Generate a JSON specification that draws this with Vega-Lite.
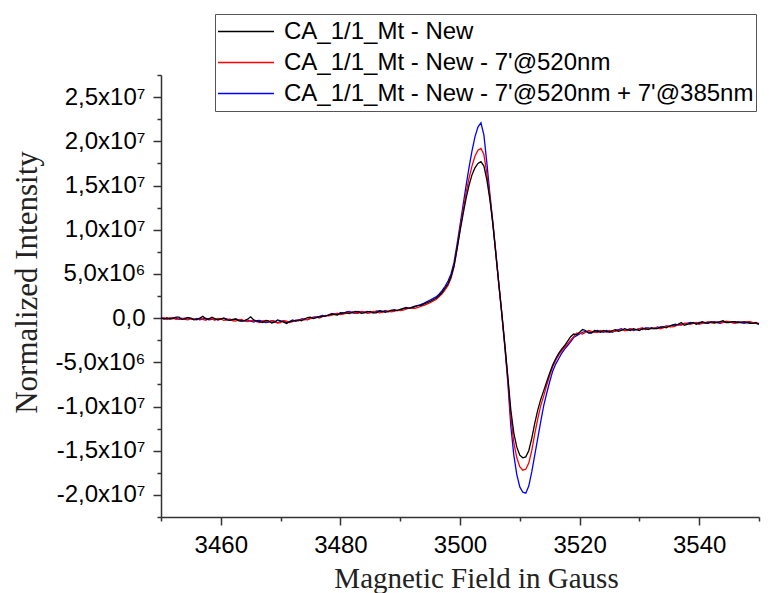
{
"$schema":"https://vega.github.io/schema/vega-lite/v6.json",
"width":598,"height":442,
"autosize":{"type":"none"},
"padding":{"left":161,"top":75,"right":22,"bottom":76},
"background":"white",
"config":{"view":{"stroke":null},"font":"Liberation Sans"},
"data":{"values":[
{"G":3450,"k":0,"r":-1e5,"b":0.5e5},
{"G":3450.5,"k":-1e5,"r":0.5e5,"b":-0.5e5},
{"G":3451,"k":0.5e5,"r":-1.5e5,"b":-1e5},
{"G":3451.5,"k":-1e5,"r":0.5e5,"b":-0.5e5},
{"G":3452,"k":-0.5e5,"r":0,"b":0.5e5},
{"G":3452.5,"k":1e5,"r":-1.5e5,"b":0},
{"G":3453,"k":1e5,"r":-1e5,"b":-1.5e5},
{"G":3453.5,"k":-1.5e5,"r":0,"b":-1e5},
{"G":3454,"k":-1e5,"r":-1.5e5,"b":0},
{"G":3454.5,"k":0.5e5,"r":-2e5,"b":0.5e5},
{"G":3455,"k":0,"r":-0.5e5,"b":-1e5},
{"G":3455.5,"k":-2e5,"r":-1e5,"b":-1.5e5},
{"G":3456,"k":-1.5e5,"r":-2e5,"b":-0.5e5},
{"G":3456.5,"k":0,"r":-0.5e5,"b":-2e5},
{"G":3457,"k":2e5,"r":-1.5e5,"b":-1e5},
{"G":3457.5,"k":-1e5,"r":-2.5e5,"b":0},
{"G":3458,"k":-1e5,"r":-0.5e5,"b":-2e5},
{"G":3458.5,"k":1e5,"r":-1e5,"b":-1.5e5},
{"G":3459,"k":-0.5e5,"r":-2.5e5,"b":-1e5},
{"G":3459.5,"k":-2e5,"r":-0.5e5,"b":-2e5},
{"G":3460,"k":-1e5,"r":-1e5,"b":-1.5e5},
{"G":3460.5,"k":0,"r":-2.5e5,"b":0},
{"G":3461,"k":-2e5,"r":-2e5,"b":-1e5},
{"G":3461.5,"k":-2.5e5,"r":-1e5,"b":-2.5e5},
{"G":3462,"k":-1.5e5,"r":-3e5,"b":-2.5e5},
{"G":3462.5,"k":-1e5,"r":-3.5e5,"b":-1e5},
{"G":3463,"k":-3e5,"r":-2e5,"b":-2e5},
{"G":3463.5,"k":-3.5e5,"r":-1.5e5,"b":-3.5e5},
{"G":3464,"k":-2.5e5,"r":-3.5e5,"b":-3e5},
{"G":3464.5,"k":-1e5,"r":-4e5,"b":-2e5},
{"G":3465,"k":1.5e5,"r":-3e5,"b":-3.5e5},
{"G":3465.5,"k":-2e5,"r":-2.5e5,"b":-4.5e5},
{"G":3466,"k":-3.5e5,"r":-4e5,"b":-3e5},
{"G":3466.5,"k":-4e5,"r":-5e5,"b":-2.5e5},
{"G":3467,"k":-5e5,"r":-3e5,"b":-4e5},
{"G":3467.5,"k":-2.5e5,"r":-3.5e5,"b":-5e5},
{"G":3468,"k":-3e5,"r":-4.5e5,"b":-4.5e5},
{"G":3468.5,"k":-5.5e5,"r":-3e5,"b":-3e5},
{"G":3469,"k":-4.5e5,"r":-4e5,"b":-3.5e5},
{"G":3469.5,"k":-2e5,"r":-5.5e5,"b":-5e5},
{"G":3470,"k":-3e5,"r":-5e5,"b":-4e5},
{"G":3470.5,"k":-4.5e5,"r":-3e5,"b":-3e5},
{"G":3471,"k":-6e5,"r":-3.5e5,"b":-5e5},
{"G":3471.5,"k":-4e5,"r":-5e5,"b":-4e5},
{"G":3472,"k":-3.5e5,"r":-4e5,"b":-2e5},
{"G":3472.5,"k":-2.5e5,"r":-2.5e5,"b":-3.5e5},
{"G":3473,"k":-2e5,"r":-3e5,"b":-2.5e5},
{"G":3473.5,"k":-3e5,"r":-1.5e5,"b":-1e5},
{"G":3474,"k":-1e5,"r":-2e5,"b":-1e5},
{"G":3474.5,"k":0.5e5,"r":-1.5e5,"b":-2e5},
{"G":3475,"k":1e5,"r":-0.5e5,"b":0},
{"G":3475.5,"k":-0.5e5,"r":0.5e5,"b":1e5},
{"G":3476,"k":0.5e5,"r":1e5,"b":1.5e5},
{"G":3476.5,"k":1.5e5,"r":0,"b":2e5},
{"G":3477,"k":2e5,"r":1.5e5,"b":3e5},
{"G":3477.5,"k":2.5e5,"r":3e5,"b":2e5},
{"G":3478,"k":3.5e5,"r":2.5e5,"b":3.5e5},
{"G":3478.5,"k":4.5e5,"r":3e5,"b":5e5},
{"G":3479,"k":4e5,"r":4.5e5,"b":5e5},
{"G":3479.5,"k":3.5e5,"r":5.5e5,"b":4e5},
{"G":3480,"k":5.5e5,"r":4e5,"b":6e5},
{"G":3480.5,"k":6e5,"r":4.5e5,"b":5.5e5},
{"G":3481,"k":6e5,"r":5.5e5,"b":7e5},
{"G":3481.5,"k":5e5,"r":6.5e5,"b":7.5e5},
{"G":3482,"k":6.5e5,"r":7e5,"b":6e5},
{"G":3482.5,"k":7.5e5,"r":5.5e5,"b":5.5e5},
{"G":3483,"k":7e5,"r":5.5e5,"b":7.5e5},
{"G":3483.5,"k":5.5e5,"r":7.5e5,"b":7e5},
{"G":3484,"k":6e5,"r":7e5,"b":6.5e5},
{"G":3484.5,"k":7e5,"r":5.5e5,"b":7.5e5},
{"G":3485,"k":7.5e5,"r":6e5,"b":6.5e5},
{"G":3485.5,"k":6e5,"r":7.5e5,"b":6e5},
{"G":3486,"k":6e5,"r":7e5,"b":8e5},
{"G":3486.5,"k":8.5e5,"r":6e5,"b":7.5e5},
{"G":3487,"k":8e5,"r":6.5e5,"b":7e5},
{"G":3487.5,"k":6.5e5,"r":7.5e5,"b":8.5e5},
{"G":3488,"k":7.5e5,"r":8e5,"b":7e5},
{"G":3488.5,"k":9e5,"r":7e5,"b":8e5},
{"G":3489,"k":9e5,"r":7.5e5,"b":9.5e5},
{"G":3489.5,"k":8.5e5,"r":9e5,"b":8.5e5},
{"G":3490,"k":10e5,"r":8.5e5,"b":9e5},
{"G":3490.5,"k":11e5,"r":9e5,"b":10.5e5},
{"G":3491,"k":11.5e5,"r":10e5,"b":12e5},
{"G":3491.5,"k":11e5,"r":11.5e5,"b":11e5},
{"G":3492,"k":12.5e5,"r":11e5,"b":11.5e5},
{"G":3492.5,"k":13.5e5,"r":11e5,"b":13e5},
{"G":3493,"k":14e5,"r":12e5,"b":14.5e5},
{"G":3493.5,"k":14.5e5,"r":13.5e5,"b":15.5e5},
{"G":3494,"k":16e5,"r":14.5e5,"b":17e5},
{"G":3495,"k":19e5,"r":17.5e5,"b":20.5e5},
{"G":3496,"k":22.5e5,"r":21e5,"b":24e5},
{"G":3496.5,"k":25.5e5,"r":24e5,"b":27e5},
{"G":3497,"k":29e5,"r":27.5e5,"b":31e5},
{"G":3497.5,"k":34e5,"r":32e5,"b":36e5},
{"G":3498,"k":39e5,"r":37e5,"b":42e5},
{"G":3498.5,"k":47e5,"r":45e5,"b":50e5},
{"G":3499,"k":59e5,"r":58e5,"b":63e5},
{"G":3499.5,"k":78e5,"r":78e5,"b":83e5},
{"G":3500,"k":98e5,"r":100e5,"b":105e5},
{"G":3500.5,"k":117e5,"r":121e5,"b":127e5},
{"G":3501,"k":135e5,"r":141e5,"b":149e5},
{"G":3501.5,"k":150e5,"r":158e5,"b":170e5},
{"G":3502,"k":162e5,"r":172e5,"b":189e5},
{"G":3502.5,"k":170e5,"r":183e5,"b":205e5},
{"G":3503,"k":175e5,"r":190e5,"b":216e5},
{"G":3503.5,"k":177e5,"r":192e5,"b":221e5},
{"G":3504,"k":172e5,"r":185e5,"b":207e5},
{"G":3504.5,"k":156e5,"r":163e5,"b":175e5},
{"G":3505,"k":134e5,"r":137e5,"b":140e5},
{"G":3505.5,"k":106e5,"r":107e5,"b":108e5},
{"G":3506,"k":72e5,"r":72e5,"b":74e5},
{"G":3506.5,"k":38e5,"r":38e5,"b":38e5},
{"G":3507,"k":5e5,"r":4e5,"b":4e5},
{"G":3507.5,"k":-30e5,"r":-31e5,"b":-33e5},
{"G":3508,"k":-66e5,"r":-69e5,"b":-73e5},
{"G":3508.5,"k":-104e5,"r":-112e5,"b":-122e5},
{"G":3509,"k":-130e5,"r":-141e5,"b":-155e5},
{"G":3509.5,"k":-146e5,"r":-158e5,"b":-177e5},
{"G":3510,"k":-155e5,"r":-168e5,"b":-191e5},
{"G":3510.5,"k":-158e5,"r":-172e5,"b":-197e5},
{"G":3511,"k":-157e5,"r":-171e5,"b":-198e5},
{"G":3511.5,"k":-150e5,"r":-164e5,"b":-190e5},
{"G":3512,"k":-136e5,"r":-150e5,"b":-174e5},
{"G":3512.5,"k":-119e5,"r":-131e5,"b":-155e5},
{"G":3513,"k":-104e5,"r":-114e5,"b":-136e5},
{"G":3513.5,"k":-92e5,"r":-99e5,"b":-117e5},
{"G":3514,"k":-82e5,"r":-88e5,"b":-99e5},
{"G":3514.5,"k":-72e5,"r":-76e5,"b":-85e5},
{"G":3515,"k":-62e5,"r":-65e5,"b":-72e5},
{"G":3515.5,"k":-53e5,"r":-55e5,"b":-60e5},
{"G":3516,"k":-46e5,"r":-48e5,"b":-52e5},
{"G":3516.5,"k":-40e5,"r":-42e5,"b":-46e5},
{"G":3517,"k":-35e5,"r":-37e5,"b":-40e5},
{"G":3517.5,"k":-31e5,"r":-33e5,"b":-35e5},
{"G":3518,"k":-26e5,"r":-29e5,"b":-31e5},
{"G":3518.5,"k":-21e5,"r":-25e5,"b":-27e5},
{"G":3519,"k":-18e5,"r":-21e5,"b":-22e5},
{"G":3519.5,"k":-19e5,"r":-17e5,"b":-20e5},
{"G":3520,"k":-16e5,"r":-17e5,"b":-18e5},
{"G":3520.5,"k":-13e5,"r":-18e5,"b":-16e5},
{"G":3521,"k":-14e5,"r":-16e5,"b":-15e5},
{"G":3521.5,"k":-17e5,"r":-14e5,"b":-16e5},
{"G":3522,"k":-17e5,"r":-15e5,"b":-16e5},
{"G":3522.5,"k":-14e5,"r":-16e5,"b":-15e5},
{"G":3523,"k":-15e5,"r":-16e5,"b":-14e5},
{"G":3523.5,"k":-16e5,"r":-14e5,"b":-15e5},
{"G":3524,"k":-14e5,"r":-15e5,"b":-16e5},
{"G":3524.5,"k":-15e5,"r":-16e5,"b":-14e5},
{"G":3525,"k":-16e5,"r":-14e5,"b":-15e5},
{"G":3525.5,"k":-14e5,"r":-15e5,"b":-16e5},
{"G":3526,"k":-13e5,"r":-15e5,"b":-14e5},
{"G":3526.5,"k":-15e5,"r":-14e5,"b":-13e5},
{"G":3527,"k":-14e5,"r":-13e5,"b":-12e5},
{"G":3527.5,"k":-12e5,"r":-14e5,"b":-14e5},
{"G":3528,"k":-13e5,"r":-14e5,"b":-13e5},
{"G":3528.5,"k":-14e5,"r":-12e5,"b":-12e5},
{"G":3529,"k":-12e5,"r":-13e5,"b":-14e5},
{"G":3529.5,"k":-13e5,"r":-13e5,"b":-13e5},
{"G":3530,"k":-14e5,"r":-12e5,"b":-12e5},
{"G":3530.5,"k":-12e5,"r":-11e5,"b":-13e5},
{"G":3531,"k":-12e5,"r":-13e5,"b":-11e5},
{"G":3531.5,"k":-13e5,"r":-12e5,"b":-11e5},
{"G":3532,"k":-11e5,"r":-12e5,"b":-12e5},
{"G":3532.5,"k":-12e5,"r":-11e5,"b":-12e5},
{"G":3533,"k":-12e5,"r":-11e5,"b":-10e5},
{"G":3533.5,"k":-10e5,"r":-12e5,"b":-11e5},
{"G":3534,"k":-10e5,"r":-11e5,"b":-10e5},
{"G":3534.5,"k":-11e5,"r":-9e5,"b":-9e5},
{"G":3535,"k":-9e5,"r":-10e5,"b":-9e5},
{"G":3535.5,"k":-8e5,"r":-10e5,"b":-8e5},
{"G":3536,"k":-8e5,"r":-9e5,"b":-7e5},
{"G":3536.5,"k":-7e5,"r":-7e5,"b":-8e5},
{"G":3537,"k":-5e5,"r":-8e5,"b":-7e5},
{"G":3537.5,"k":-8e5,"r":-6e5,"b":-6e5},
{"G":3538,"k":-7e5,"r":-6e5,"b":-6e5},
{"G":3538.5,"k":-6e5,"r":-7e5,"b":-5e5},
{"G":3539,"k":-5e5,"r":-6e5,"b":-6e5},
{"G":3539.5,"k":-7e5,"r":-5e5,"b":-6e5},
{"G":3540,"k":-6e5,"r":-7e5,"b":-5e5},
{"G":3540.5,"k":-4e5,"r":-6e5,"b":-5e5},
{"G":3541,"k":-5e5,"r":-5e5,"b":-6e5},
{"G":3541.5,"k":-6e5,"r":-4e5,"b":-5e5},
{"G":3542,"k":-4e5,"r":-5e5,"b":-5e5},
{"G":3542.5,"k":-5e5,"r":-6e5,"b":-4e5},
{"G":3543,"k":-5e5,"r":-4e5,"b":-5e5},
{"G":3543.5,"k":-4e5,"r":-5e5,"b":-6e5},
{"G":3544,"k":-3e5,"r":-5e5,"b":-4.5e5},
{"G":3544.5,"k":-5e5,"r":-3.5e5,"b":-4e5},
{"G":3545,"k":-5e5,"r":-4e5,"b":-4e5},
{"G":3545.5,"k":-4e5,"r":-5e5,"b":-5e5},
{"G":3546,"k":-4e5,"r":-6e5,"b":-5e5},
{"G":3546.5,"k":-5e5,"r":-5e5,"b":-4e5},
{"G":3547,"k":-5e5,"r":-4e5,"b":-5e5},
{"G":3547.5,"k":-4e5,"r":-5e5,"b":-6e5},
{"G":3548,"k":-5e5,"r":-4e5,"b":-5e5},
{"G":3548.5,"k":-6e5,"r":-4e5,"b":-5e5},
{"G":3549,"k":-6e5,"r":-5e5,"b":-6e5},
{"G":3549.5,"k":-5e5,"r":-6e5,"b":-6e5},
{"G":3550,"k":-7e5,"r":-6e5,"b":-7e5}
]},
"transform":[{"fold":["b","r","k"],"as":["s","v"]}],
"mark":{"type":"line","strokeWidth":1.3},
"encoding":{
 "x":{"field":"G","type":"quantitative",
  "scale":{"domain":[3450,3550],"nice":false,"zero":false},
  "axis":{"values":[3450,3460,3470,3480,3490,3500,3510,3520,3530,3540,3550],
   "format":"d","labelExpr":"datum.value % 20 == 0 ? datum.label : ''",
   "tickSize":{"condition":{"test":"datum.value % 20 == 0","value":8},"value":4},
   "grid":false,"domainColor":"#333","domainWidth":1.5,"tickColor":"#333","tickWidth":1.5,
   "labelFont":"Liberation Sans","labelFontSize":24,"labelColor":"#000","labelPadding":8,
   "labelFlush":false,"labelOverlap":false,
   "title":"Magnetic Field in Gauss","titleFont":"Liberation Serif","titleFontSize":29,
   "titleFontWeight":"normal","titleColor":"#222","titleX":315,"titleY":70,"titleBaseline":"alphabetic","titleAlign":"center"}},
 "y":{"field":"v","type":"quantitative",
  "scale":{"domain":[-22500000,27500000],"nice":false,"zero":false},
  "axis":{"values":[-22500000,-20000000,-17500000,-15000000,-12500000,-10000000,-7500000,-5000000,-2500000,0,2500000,5000000,7500000,10000000,12500000,15000000,17500000,20000000,22500000,25000000,27500000],
   "labelExpr":"datum.value % 5000000 != 0 ? '' : datum.value == 0 ? '0,0' : (datum.value < 0 ? '-' : '') + replace(format(abs(datum.value) / (abs(datum.value) < 10000000 ? 1000000 : 10000000), '.1f'), '.', ',') + (abs(datum.value) < 10000000 ? 'x10⁶' : 'x10⁷')",
   "tickSize":{"condition":{"test":"datum.value % 5000000 == 0","value":8},"value":4},
   "grid":false,"domainColor":"#333","domainWidth":1.5,"tickColor":"#333","tickWidth":1.5,
   "labelFont":"Liberation Sans","labelFontSize":24,"labelColor":"#000","labelPadding":8,
   "labelFlush":false,"labelOverlap":false,
   "title":"Normalized Intensity","titleFont":"Liberation Serif","titleFontSize":31,
   "titleFontWeight":"normal","titleColor":"#222","titleX":-134,"titleY":207,"titleBaseline":"middle","titleAlign":"center","titleAngle":-90}},
 "color":{"field":"s","type":"nominal",
  "scale":{"domain":["k","r","b"],"range":["#000000","#ff0000","#0000ff"]},
  "legend":{"orient":"none","legendX":54,"legendY":-61,"title":null,
   "labelExpr":"datum.label == 'k' ? 'CA_1/1_Mt - New' : datum.label == 'r' ? \"CA_1/1_Mt - New - 7'@520nm\" : \"CA_1/1_Mt - New - 7'@520nm + 7'@385nm\"",
   "symbolType":"stroke","symbolSize":3136,"symbolStrokeWidth":1.5,"clipHeight":31,
   "labelFont":"Liberation Sans","labelFontSize":24,"labelColor":"#000","labelOffset":9,"labelLimit":0,
   "padding":2,"rowPadding":0,"strokeColor":"#555","fillColor":"white"}}
}
}
